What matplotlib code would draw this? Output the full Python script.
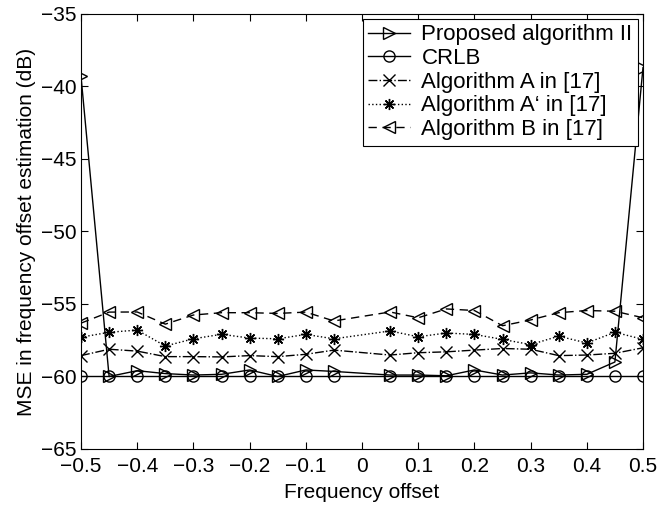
import matplotlib
matplotlib.use("Agg")
import matplotlib.pyplot as plt

plt.rcParams['font.family'] = ['Liberation Sans', 'DejaVu Sans']

freq = [-0.5, -0.45, -0.4, -0.35, -0.3, -0.25, -0.2, -0.15, -0.1, -0.05,
        0.05, 0.1, 0.15, 0.2, 0.25, 0.3, 0.35, 0.4, 0.45, 0.5]

proposed = [-39.3, -60.0, -59.6, -59.8, -59.9, -59.85, -59.55, -60.0, -59.55, -59.65,
            -59.9, -59.9, -59.95, -59.55, -59.9, -59.75, -59.9, -59.85, -59.0, -38.7]
crlb = [-60.0] * 20
alg_a = [-58.56, -58.12, -58.25, -58.63, -58.63, -58.65, -58.56, -58.63, -58.47, -58.18,
         -58.52, -58.36, -58.30, -58.18, -58.07, -58.12, -58.56, -58.52, -58.40, -58.02]
alg_a2 = [-57.29, -56.95, -56.80, -57.90, -57.40, -57.09, -57.35, -57.40, -57.10, -57.40,
          -56.86, -57.26, -57.00, -57.10, -57.44, -57.80, -57.22, -57.69, -56.95, -57.44]
alg_b = [-56.32, -55.56, -55.55, -56.39, -55.76, -55.60, -55.60, -55.65, -55.56, -56.17,
         -55.55, -55.95, -55.34, -55.45, -56.50, -56.10, -55.60, -55.45, -55.50, -55.95]

labels = ['Proposed algorithm II', 'CRLB', 'Algorithm A in [17]',
          "Algorithm A\u2018 in [17]", 'Algorithm B in [17]']
xticks = [-0.5, -0.4, -0.3, -0.2, -0.1, 0, 0.1, 0.2, 0.3, 0.4, 0.5]
xticklabels = ['\u22120.5', '\u22120.4', '\u22120.3', '\u22120.2', '\u22120.1', '0',
               '0.1', '0.2', '0.3', '0.4', '0.5']
yticks = [-65, -60, -55, -50, -45, -40, -35]

fig = plt.figure(figsize=(6.57, 5.05), dpi=100)
ax = fig.add_axes([0.1233, 0.1109, 0.8554, 0.8614])

kw = dict(color='black', linewidth=1.0, markerfacecolor='none', markeredgecolor='black',
          markeredgewidth=1.0, markersize=8)
ax.plot(freq, proposed, '->', label=labels[0], **kw)
ax.plot(freq, crlb, '-o', label=labels[1], **kw)
ax.plot(freq, alg_a, linestyle='-.', marker='x', label=labels[2], **kw)
ax.plot(freq, alg_a2, linestyle=':', marker=(8, 2, 0), label=labels[3], **kw)
ax.plot(freq, alg_b, linestyle='--', marker='<', label=labels[4],
        dashes=(6, 4), **kw)

ax.set_xlim(-0.5, 0.5)
ax.set_ylim(-65, -35)
ax.set_xticks(xticks)
ax.set_xticklabels(xticklabels)
ax.set_yticks(yticks)
ax.set_yticklabels(['\u2212%d' % (-v) for v in yticks])
ax.tick_params(direction='in', top=True, right=True, labelsize=15, length=5, width=0.8)
ax.tick_params(axis='x', pad=6)
ax.tick_params(axis='y', pad=3)
for s in ax.spines.values():
    s.set_linewidth(0.8)
ax.set_xlabel('Frequency offset', fontsize=15, labelpad=5)
ax.set_ylabel('MSE in frequency offset estimation (dB)', fontsize=15, labelpad=4)

leg = ax.legend(loc='upper right', fontsize=16, frameon=True, fancybox=False,
                edgecolor='black', framealpha=1, borderpad=0.25, labelspacing=0.12,
                handlelength=1.9, handletextpad=0.5, borderaxespad=0.22)
leg.get_frame().set_linewidth(0.8)

fig.savefig('out.png', dpi=100)
